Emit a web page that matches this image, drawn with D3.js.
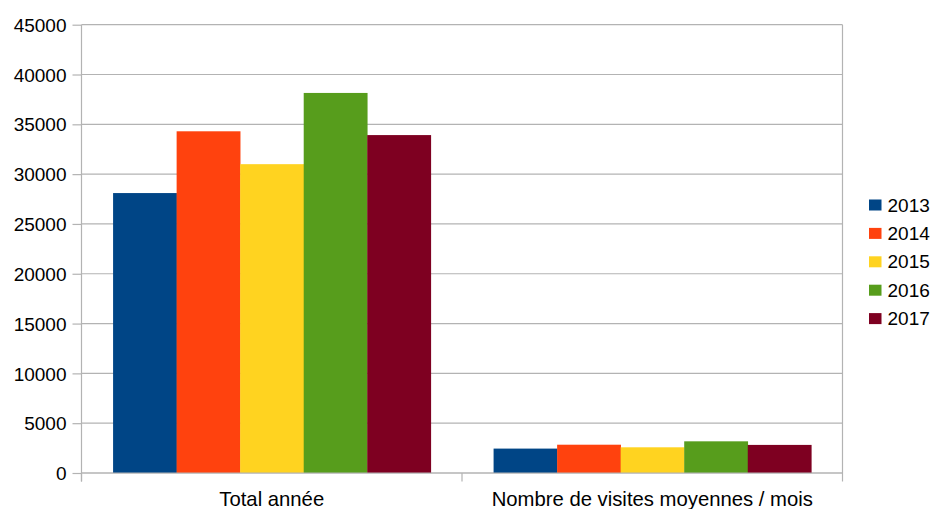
<!DOCTYPE html>
<html>
<head>
<meta charset="utf-8">
<script src="https://cdn.jsdelivr.net/npm/d3@7"></script>
<style>
  html, body { margin: 0; padding: 0; background: #fff; }
  svg { display: block; font-family: "Liberation Sans", Arial, sans-serif; }
</style>
</head>
<body>
<svg id="chart" width="935" height="509"></svg>
<script>
// Visit statistics per year
const categories = ["Total année", "Nombre de visites moyennes / mois"];
const years = ["2013", "2014", "2015", "2016", "2017"];
const values2013 = [28100, 2450];
const values2014 = [34300, 2840];
const values2015 = [31000, 2580];
const values2016 = [38150, 3180];
const values2017 = [33920, 2820];
const colors = ["#004586", "#ff420e", "#ffd320", "#579d1c", "#7e0021"];
const yTicks = [0, 5000, 10000, 15000, 20000, 25000, 30000, 35000, 40000, 45000];

const series = [values2013, values2014, values2015, values2016, values2017];

const svg = d3.select("#chart");
const plot = { left: 81.5, right: 842.5, top: 24.7, bottom: 473 };
const grid = "#b3b3b3";

const x = d3.scaleBand().domain(categories).range([plot.left, plot.right]).padding(0);
const y = d3.scaleLinear().domain([0, 45000]).range([plot.bottom, plot.top]);
const bw = x.bandwidth();
const inner = d3.scaleBand().domain(years).range([bw * 0.083, bw * 0.918]).padding(0);

// horizontal grid lines
svg.append("g")
  .selectAll("line")
  .data(yTicks)
  .join("line")
  .attr("x1", plot.left)
  .attr("x2", plot.right)
  .attr("y1", d => y(d))
  .attr("y2", d => y(d))
  .attr("stroke", grid)
  .attr("stroke-width", 1.2);

// bars
years.forEach((yr, i) => {
  svg.append("g")
    .selectAll("rect")
    .data(categories.map((c, j) => ({ c, v: series[i][j] })))
    .join("rect")
    .attr("x", d => x(d.c) + inner(yr))
    .attr("width", inner.bandwidth() + 0.3)
    .attr("y", d => y(d.v))
    .attr("height", d => y(0) - y(d.v))
    .attr("fill", colors[i]);
});

// y axis
const yAxis = d3.axisLeft(y).tickValues(yTicks).tickSize(9).tickPadding(6).tickFormat(d3.format("d"));
const gy = svg.append("g").attr("transform", `translate(${plot.left},0)`).call(yAxis);
gy.select(".domain").remove();
gy.selectAll(".tick line").attr("stroke", grid).attr("stroke-width", 1.2);
gy.selectAll(".tick text").attr("fill", "#000").style("font-size", "19px").attr("dy", "0.35em");
svg.append("line")
  .attr("x1", plot.left).attr("x2", plot.left)
  .attr("y1", plot.top).attr("y2", plot.bottom + 8.5)
  .attr("stroke", grid).attr("stroke-width", 1.2);
svg.append("line")
  .attr("x1", plot.right).attr("x2", plot.right)
  .attr("y1", plot.top).attr("y2", plot.bottom)
  .attr("stroke", grid).attr("stroke-width", 1.2);

// x axis: ticks on category boundaries, labels centred under groups
const bounds = [plot.left, x(categories[1]), plot.right];
svg.append("g")
  .selectAll("line")
  .data(bounds)
  .join("line")
  .attr("x1", d => d).attr("x2", d => d)
  .attr("y1", plot.bottom).attr("y2", plot.bottom + 8.5)
  .attr("stroke", grid).attr("stroke-width", 1.2);
svg.append("line")
  .attr("x1", plot.left).attr("x2", plot.right)
  .attr("y1", plot.bottom).attr("y2", plot.bottom)
  .attr("stroke", grid).attr("stroke-width", 1.2);

svg.append("g")
  .selectAll("text")
  .data(categories)
  .join("text")
  .attr("x", d => x(d) + bw / 2)
  .attr("y", 506)
  .attr("text-anchor", "middle")
  .attr("fill", "#000")
  .style("font-size", "20.3px")
  .text(d => d);

// legend
const legend = svg.append("g")
  .selectAll("g")
  .data(years)
  .join("g")
  .attr("transform", (d, i) => `translate(869, ${205 + i * 28.4})`);
legend.append("rect")
  .attr("x", 0).attr("y", -5.5)
  .attr("width", 12.5).attr("height", 11)
  .attr("fill", (d, i) => colors[i]);
legend.append("text")
  .attr("x", 18.5).attr("y", 0)
  .attr("dy", "0.35em")
  .attr("fill", "#000")
  .style("font-size", "19px")
  .text(d => d);
</script>
</body>
</html>
